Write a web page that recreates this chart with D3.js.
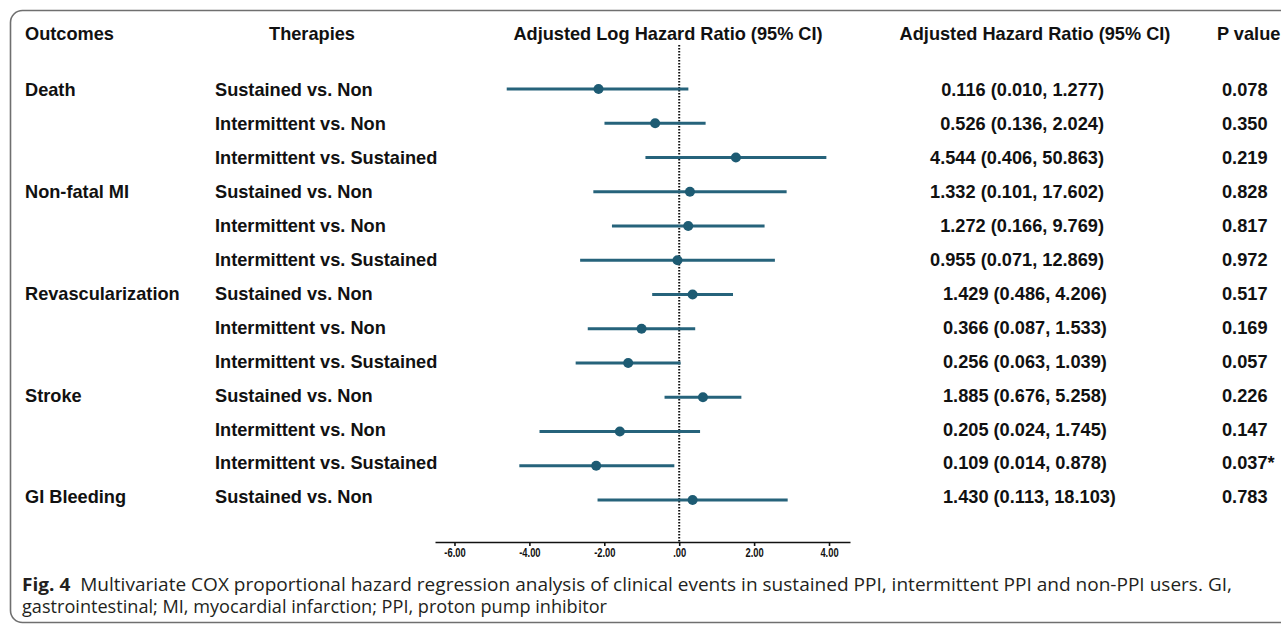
<!DOCTYPE html>
<html>
<head>
<meta charset="utf-8">
<script src="https://cdn.jsdelivr.net/npm/d3@7"></script>
<style>
  html, body { margin: 0; padding: 0; background: #fff; }
  svg { display: block; }
</style>
</head>
<body>
<svg id="chart" width="1281" height="624"></svg>
<script>
// ---- data ----
const outcomes = ["Death", "", "", "Non-fatal MI", "", "", "Revascularization", "", "", "Stroke", "", "", "GI Bleeding"];
const therapies = ["Sustained vs. Non", "Intermittent vs. Non", "Intermittent vs. Sustained",
                   "Sustained vs. Non", "Intermittent vs. Non", "Intermittent vs. Sustained",
                   "Sustained vs. Non", "Intermittent vs. Non", "Intermittent vs. Sustained",
                   "Sustained vs. Non", "Intermittent vs. Non", "Intermittent vs. Sustained",
                   "Sustained vs. Non"];
const hr    = [0.116, 0.526, 4.544, 1.332, 1.272, 0.955, 1.429, 0.366, 0.256, 1.885, 0.205, 0.109, 1.430];
const lower = [0.010, 0.136, 0.406, 0.101, 0.166, 0.071, 0.486, 0.087, 0.063, 0.676, 0.024, 0.014, 0.113];
const upper = [1.277, 2.024, 50.863, 17.602, 9.769, 12.869, 4.206, 1.533, 1.039, 5.258, 1.745, 0.878, 18.103];
const pvals = ["0.078", "0.350", "0.219", "0.828", "0.817", "0.972", "0.517", "0.169", "0.057", "0.226", "0.147", "0.037*", "0.783"];
const tickValues = [-6, -4, -2, 0, 2, 4];
const tickLabels = ["-6.00", "-4.00", "-2.00", ".00", "2.00", "4.00"];
const headers = ["Outcomes", "Therapies", "Adjusted Log Hazard Ratio (95% CI)", "Adjusted Hazard Ratio (95% CI)", "P value"];
const captionBold = "Fig. 4";
const captionLine1 = "Multivariate COX proportional hazard regression analysis of clinical events in sustained PPI, intermittent PPI and non-PPI users. GI,";
const captionLine2 = "gastrointestinal; MI, myocardial infarction; PPI, proton pump inhibitor";

// ---- layout ----
const svg = d3.select("#chart");
const boldFont = "'Liberation Sans', Arial, Helvetica, sans-serif";
const markColor = "#1d5b73";
const lineColor = "#26637b";
const fs = 18.2;

svg.append("rect").attr("x", 0).attr("y", 0).attr("width", 1281).attr("height", 624).attr("fill", "#fff");

// frame
svg.append("rect")
  .attr("x", 10.5).attr("y", 10.5)
  .attr("width", 1320).attr("height", 612)
  .attr("rx", 12).attr("ry", 12)
  .attr("fill", "none").attr("stroke", "#6f6f6f").attr("stroke-width", 1.6);

const x = d3.scaleLinear().domain([-6.52, 4.56]).range([435, 850]);
const rows = d3.range(hr.length);
const y = d3.scalePoint().domain(rows).range([89, 500]);       // marks
const yText = d3.scalePoint().domain(rows).range([90, 497]);   // table text

// headers
const headerPos = [{x: 25, a: "start"}, {x: 312, a: "middle"}, {x: 668, a: "middle"}, {x: 1035, a: "middle"}, {x: 1217, a: "start"}];
svg.selectAll("text.header").data(headers).join("text")
  .attr("class", "header")
  .attr("x", (d, i) => headerPos[i].x)
  .attr("y", 34).attr("dy", "0.35em")
  .attr("text-anchor", (d, i) => headerPos[i].a)
  .attr("font-family", boldFont).attr("font-weight", "bold").attr("font-size", fs)
  .attr("fill", "#111")
  .text(d => d);

// zero reference line
svg.append("line")
  .attr("x1", x(0)).attr("x2", x(0))
  .attr("y1", 45).attr("y2", 542)
  .attr("stroke", "#111").attr("stroke-width", 2)
  .attr("stroke-dasharray", "1.6,1.4");

// axis
const axis = d3.axisBottom(x)
  .tickValues(tickValues)
  .tickFormat((d, i) => tickLabels[i])
  .tickSize(4).tickSizeOuter(0);
const gAxis = svg.append("g").attr("transform", "translate(0,542)").call(axis);
gAxis.select(".domain").attr("stroke", "#111").attr("stroke-width", 1.6);
gAxis.selectAll(".tick line").attr("stroke", "#111").attr("stroke-width", 1.6);
gAxis.selectAll(".tick text")
  .attr("y", 5.5)
  .attr("font-family", boldFont).attr("font-weight", "bold").attr("font-size", 13)
  .attr("fill", "#111")
  .each(function() {
    const len = this.getComputedTextLength();
    d3.select(this).attr("textLength", len * 0.72).attr("lengthAdjust", "spacingAndGlyphs");
  });

// CI lines
svg.selectAll("line.ci").data(rows).join("line")
  .attr("class", "ci")
  .attr("x1", i => x(Math.log(lower[i])))
  .attr("x2", i => x(Math.log(upper[i])))
  .attr("y1", i => y(i)).attr("y2", i => y(i))
  .attr("stroke", lineColor).attr("stroke-width", 3);

// point estimates
svg.selectAll("circle.pt").data(rows).join("circle")
  .attr("class", "pt")
  .attr("cx", i => x(Math.log(hr[i])))
  .attr("cy", i => y(i))
  .attr("r", 5)
  .attr("fill", markColor);

// text columns
const textStyle = sel => sel
  .attr("font-family", boldFont).attr("font-weight", "bold").attr("font-size", fs)
  .attr("fill", "#111").attr("dy", "0.35em");

svg.selectAll("text.outcome").data(rows.filter(i => outcomes[i])).join("text")
  .attr("class", "outcome")
  .attr("x", 25).attr("y", i => yText(i))
  .call(textStyle)
  .text(i => outcomes[i]);

svg.selectAll("text.therapy").data(rows).join("text")
  .attr("class", "therapy")
  .attr("x", 215).attr("y", i => yText(i))
  .call(textStyle)
  .text(i => therapies[i]);

const f3 = d3.format(".3f");
svg.selectAll("text.hr").data(rows).join("text")
  .attr("class", "hr")
  .attr("x", i => i < 6 ? 1104 : 943)
  .attr("y", i => yText(i))
  .attr("text-anchor", i => i < 6 ? "end" : "start")
  .call(textStyle)
  .text(i => `${f3(hr[i])} (${f3(lower[i])}, ${f3(upper[i])})`);

svg.selectAll("text.p").data(rows).join("text")
  .attr("class", "p")
  .attr("x", 1222).attr("y", i => yText(i))
  .call(textStyle)
  .text(i => pvals[i]);

// caption
const capFont = "'Open Sans', 'Noto Sans', sans-serif";
const c1 = svg.append("text")
  .attr("x", 22).attr("y", 591)
  .attr("font-family", capFont).attr("font-size", 17.5).attr("fill", "#231f20")
  .attr("textLength", 1210).attr("lengthAdjust", "spacingAndGlyphs");
c1.append("tspan").attr("font-weight", "bold").text(captionBold);
c1.append("tspan").text("\u00a0\u00a0" + captionLine1);

svg.append("text")
  .attr("x", 22).attr("y", 613)
  .attr("font-family", capFont).attr("font-size", 17.5).attr("fill", "#231f20")
  .attr("textLength", 585).attr("lengthAdjust", "spacingAndGlyphs")
  .text(captionLine2);
</script>
</body>
</html>
